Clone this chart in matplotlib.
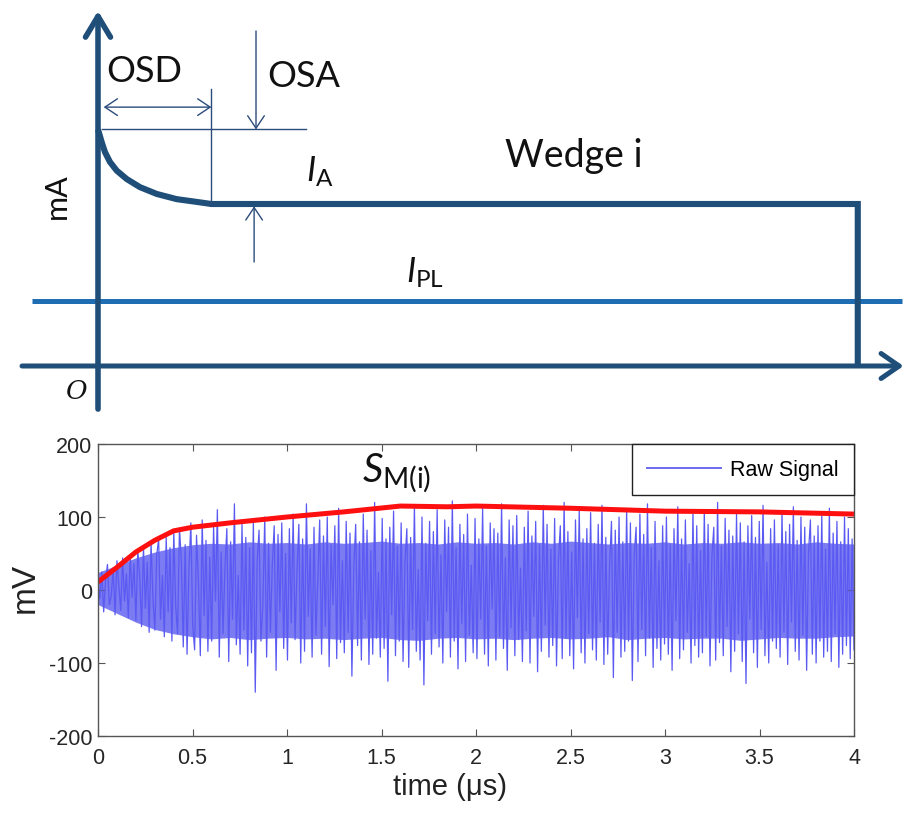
import matplotlib
matplotlib.use("Agg")
import matplotlib.pyplot as plt
import numpy as np

plt.rcParams['mathtext.fontset'] = 'custom'
plt.rcParams['mathtext.it'] = 'Lato:italic'
plt.rcParams['mathtext.rm'] = 'Lato'
plt.rcParams['mathtext.bf'] = 'Lato:bold'

# ---------------- data: schematic (top) ----------------
pulse_t = [0.0, 0.020, 0.037, 0.063, 0.099, 0.152, 0.222, 0.311, 0.416, 0.540, 0.60, 4.02, 4.02]
pulse_i = [7.30, 6.90, 6.60, 6.30, 6.03, 5.77, 5.52, 5.31, 5.15, 5.05, 5.0, 5.0, 0.0]
ipl_level = 2.0
ia_level = 5.0
peak_level = 7.3
osd_time = 0.60
osa_time = 0.836

# ---------------- data: measured signal (bottom) ----------------
raw_mv = [
    8, -12, 25, -30, 14, 35, -20, -8, 30, -34, 40, 5, -28, 44, -15, 22, -38, 48, -10, 36,
    -42, 55, 18, -50, 60, -25, 38, -58, 66, -12, -55, 48, 70, -40, 20, -64, 72, -30, 58, -70,
    80, -22, -60, 85, 40, -78, 62, -88, 28, 92, -50, -82, 75, 10, -90, 96, -35, 68, -84, 45,
    -70, 88, -15, 110, -92, 52, -60, 30, 84, -98, 66, -40, 118, -75, 20, -88, 90, -55, 72, -104,
    58, -86, 95, -140, 40, 82, -70, -20, 100, -92, 64, -58, 35, 88, -110, 76, -30, 92, -80, 50,
    -96, 84, -45, 104, -68, 25, 90, -100, 70, -84, 118, -36, 56, -92, 86, -62, 12, 96, -88, 74,
    -50, 100, -105, 62, -20, 88, -94, 112, -72, 40, -86, 94, -58, 78, -118, 30, 90, -76, 66, -96,
    104, -40, 82, -102, 54, -88, 120, -66, 24, -92, 98, -80, 70, -125, 86, -34, 108, -90, 60, -70,
    92, -98, 38, 84, -106, 72, -54, 116, -84, 28, -96, 100, -130, 64, -42, 94, -88, 80, -60, 110,
    -78, 48, -100, 96, -30, 86, -92, 122, -70, 58, -108, 90, -46, 76, -98, 104, -62, 34, -86, 98,
    -94, 70, -40, 112, -88, 60, -104, 92, -26, 84, -96, 78, -64, 118, -80, 44, -110, 96, -52, 88,
    -90, 102, -68, 30, -98, 86, -56, 108, -100, 74, -36, 94, -112, 62, -84, 116, -48, 90, -92, 56,
    -76, 98, -104, 40, 88, -94, 120, -66, 80, -90, 52, -108, 96, -38, 110, -86, 70, -100, 84, -60,
    106, -82, 64, -96, 90, -44, 116, -102, 72, -88, 34, 94, -120, 82, -58, 100, -92, 66, -84, 112,
    -70, 92, -124, 48, 86, -98, 104, -54, 76, -90, 118, -66, 58, -106, 94, -80, 40, -96, 88, -74,
    100, -88, 62, -110, 84, -42, 114, -94, 70, -82, 96, -58, 36, -100, 108, -76, 88, -92, 54, -86,
    110, -64, 90, -104, 46, 86, -96, 120, -72, 60, -90, 98, -50, 82, -112, 74, -84, 104, -60, 92,
    -98, 66, -128, 88, -40, 102, -86, 72, -106, 94, -54, 116, -90, 38, -100, 84, -70, 96, -80, 62,
    -92, 108, -58, 80, -102, 90, -44, 114, -84, 68, -96, 100, -62, 86, -110, 52, 96, -88, 74, -100,
    88, -70, 104, -92, 56, -84, 112, -98, 78, -60, 94, -106, 66, -88, 100, -76, 84, -94, 70, -82,
]
# dense core of the raw signal (edges of the solid band), every 0.1 us
core_t = [round(0.1 * k, 1) for k in range(41)]
core_hi = [24, 34, 44, 52, 58, 62, 64, 63, 66, 64, 65, 63, 66, 64, 65, 67, 64, 65, 63, 66, 64,
           65, 63, 66, 64, 67, 65, 63, 65, 64, 66, 63, 65, 64, 66, 64, 65, 63, 66, 64, 63]
core_lo = [-20, -32, -44, -54, -60, -64, -67, -65, -68, -66, -65, -67, -66, -68, -66, -65, -68,
           -69, -66, -65, -67, -66, -68, -66, -65, -67, -66, -64, -68, -66, -65, -67, -66, -66,
           -69, -67, -65, -66, -66, -64, -63]

sm_t = [0, 0.1, 0.2, 0.3, 0.4, 0.5, 0.7, 1.0, 1.3, 1.6, 1.85, 2.0, 2.5, 3.0, 3.5, 4.0]
sm_mv = [11, 31, 52, 68, 81, 86, 92, 100, 107, 115, 114, 115, 112, 108, 107, 104]

xticks = [0, 0.5, 1, 1.5, 2, 2.5, 3, 3.5, 4]
xtick_labels = ['0', '0.5', '1', '1.5', '2', '2.5', '3', '3.5', '4']
yticks = [-200, -100, 0, 100, 200]
ytick_labels = ['-200', '-100', '0', '100', '200']

navy = '#1f4e79'
bright = '#1f6db3'
thin = '#2c4c7c'

fig = plt.figure(figsize=(9.05, 8.2), dpi=100)

# ---------------- top schematic ----------------
top = fig.add_axes([0, 400 / 820, 1, 420 / 820])
top.set_xlim(-98 / 189, 807 / 189)
top.set_ylim(-53 / 32.4, 367 / 32.4)
top.axis('off')

top.annotate('', xy=(0, 10.96), xytext=(0, -1.33),
             arrowprops=dict(arrowstyle='->,head_length=0.75,head_width=0.45',
                             lw=4, color=navy, shrinkA=0, shrinkB=0, mutation_scale=20))
top.annotate('', xy=(4.262, 0), xytext=(-0.402, 0),
             arrowprops=dict(arrowstyle='->,head_length=0.65,head_width=0.45',
                             lw=3.6, color=navy, shrinkA=0, shrinkB=0, mutation_scale=20))
top.plot([-0.349, 4.254], [ipl_level, ipl_level], color=bright, lw=3.6, solid_capstyle='butt')
top.plot(pulse_t, pulse_i, color=navy, lw=4.4, solid_joinstyle='miter', solid_capstyle='butt')

top.plot([0.02, 1.10], [peak_level, peak_level], color=thin, lw=1.0)
top.plot([osd_time, osd_time], [8.55, ia_level], color=thin, lw=1.0)
top.annotate('', xy=(osd_time, 7.99), xytext=(0.03, 7.99),
             arrowprops=dict(arrowstyle='<->,head_length=0.45,head_width=0.3',
                             lw=1.0, color=thin, shrinkA=0, shrinkB=0, mutation_scale=20))
top.annotate('', xy=(osa_time, peak_level), xytext=(osa_time, 10.34),
             arrowprops=dict(arrowstyle='->,head_length=0.45,head_width=0.3',
                             lw=1.0, color=thin, shrinkA=0, shrinkB=0, mutation_scale=20))
top.annotate('', xy=(0.826, 4.93), xytext=(0.826, 3.21),
             arrowprops=dict(arrowstyle='->,head_length=0.45,head_width=0.3',
                             lw=1.0, color=thin, shrinkA=0, shrinkB=0, mutation_scale=20))

tfont = dict(family='Lato', color='#111111')
top.text(0.045, 8.80, 'OSD', fontsize=26, ha='left', va='baseline', **tfont)
top.text(0.894, 8.64, 'OSA', fontsize=26, ha='left', va='baseline', **tfont)
top.text(2.153, 6.17, 'Wedge i', fontsize=27, ha='left', va='baseline', **tfont)
top.text(-0.217, 5.28, 'mA', fontsize=22, rotation=90, ha='center', va='center', **tfont)
top.text(1.10, 5.71, r'$I_{\mathrm{A}}$', fontsize=25, ha='left', va='baseline', color='#111111')
top.text(1.63, 2.59, r'$I_{\mathrm{PL}}$', fontsize=25, ha='left', va='baseline', color='#111111')
top.text(-0.111, -0.77, 'O', fontsize=19, family='DejaVu Serif', style='italic',
         ha='center', va='center', color='#111111')

# ---------------- bottom signal plot ----------------
ax = fig.add_axes([98 / 905, 83 / 820, 756 / 905, 292 / 820])
raw_t = np.linspace(0, 4, len(raw_mv))
ax.fill_between(core_t, core_lo, core_hi, color='#7b7bf2', lw=0)
ax.plot(raw_t, raw_mv, color='#5a5af2', lw=0.9, label='Raw Signal')
ax.plot(sm_t, sm_mv, color='#ff1010', lw=3.6, solid_capstyle='butt')

ax.set_xlim(0, 4)
ax.set_ylim(-200, 200)
ax.set_xticks(xticks)
ax.set_xticklabels(xtick_labels, family='Liberation Sans', fontsize=15.5, color='#262626')
ax.set_yticks(yticks)
ax.set_yticklabels(ytick_labels, family='Liberation Sans', fontsize=15.5, color='#262626')
ax.tick_params(direction='in', length=5, width=0.8, color='#555555', top=True, right=True)
ax.tick_params(axis='x', pad=8)
ax.tick_params(axis='y', pad=4)
for s in ax.spines.values():
    s.set_color('#555555')
    s.set_linewidth(1.0)

ax.set_xlabel('time (μs)', family='Liberation Sans', fontsize=21, color='#222222')
ax.xaxis.set_label_coords(0.466, -0.123)
ax.set_ylabel('mV', family='Liberation Sans', fontsize=24, color='#222222', va='center')
ax.yaxis.set_label_coords(-0.0966, 0.51)

ax.text(1.397, 149, r'$S_{\mathrm{M(i)}}$', fontsize=29, ha='left', va='baseline', color='#111111')

leg = ax.legend(loc='upper right', borderaxespad=0, fancybox=False, edgecolor='#222222',
                framealpha=1, handlelength=3.4, handletextpad=0.45, borderpad=0.7,
                prop=dict(family='Liberation Sans', size=15.5))
leg.get_frame().set_linewidth(1.0)
for h in leg.get_lines():
    h.set_linewidth(1.4)
    h.set_color('#6a6aee')

fig.savefig('out.png', dpi=100)
